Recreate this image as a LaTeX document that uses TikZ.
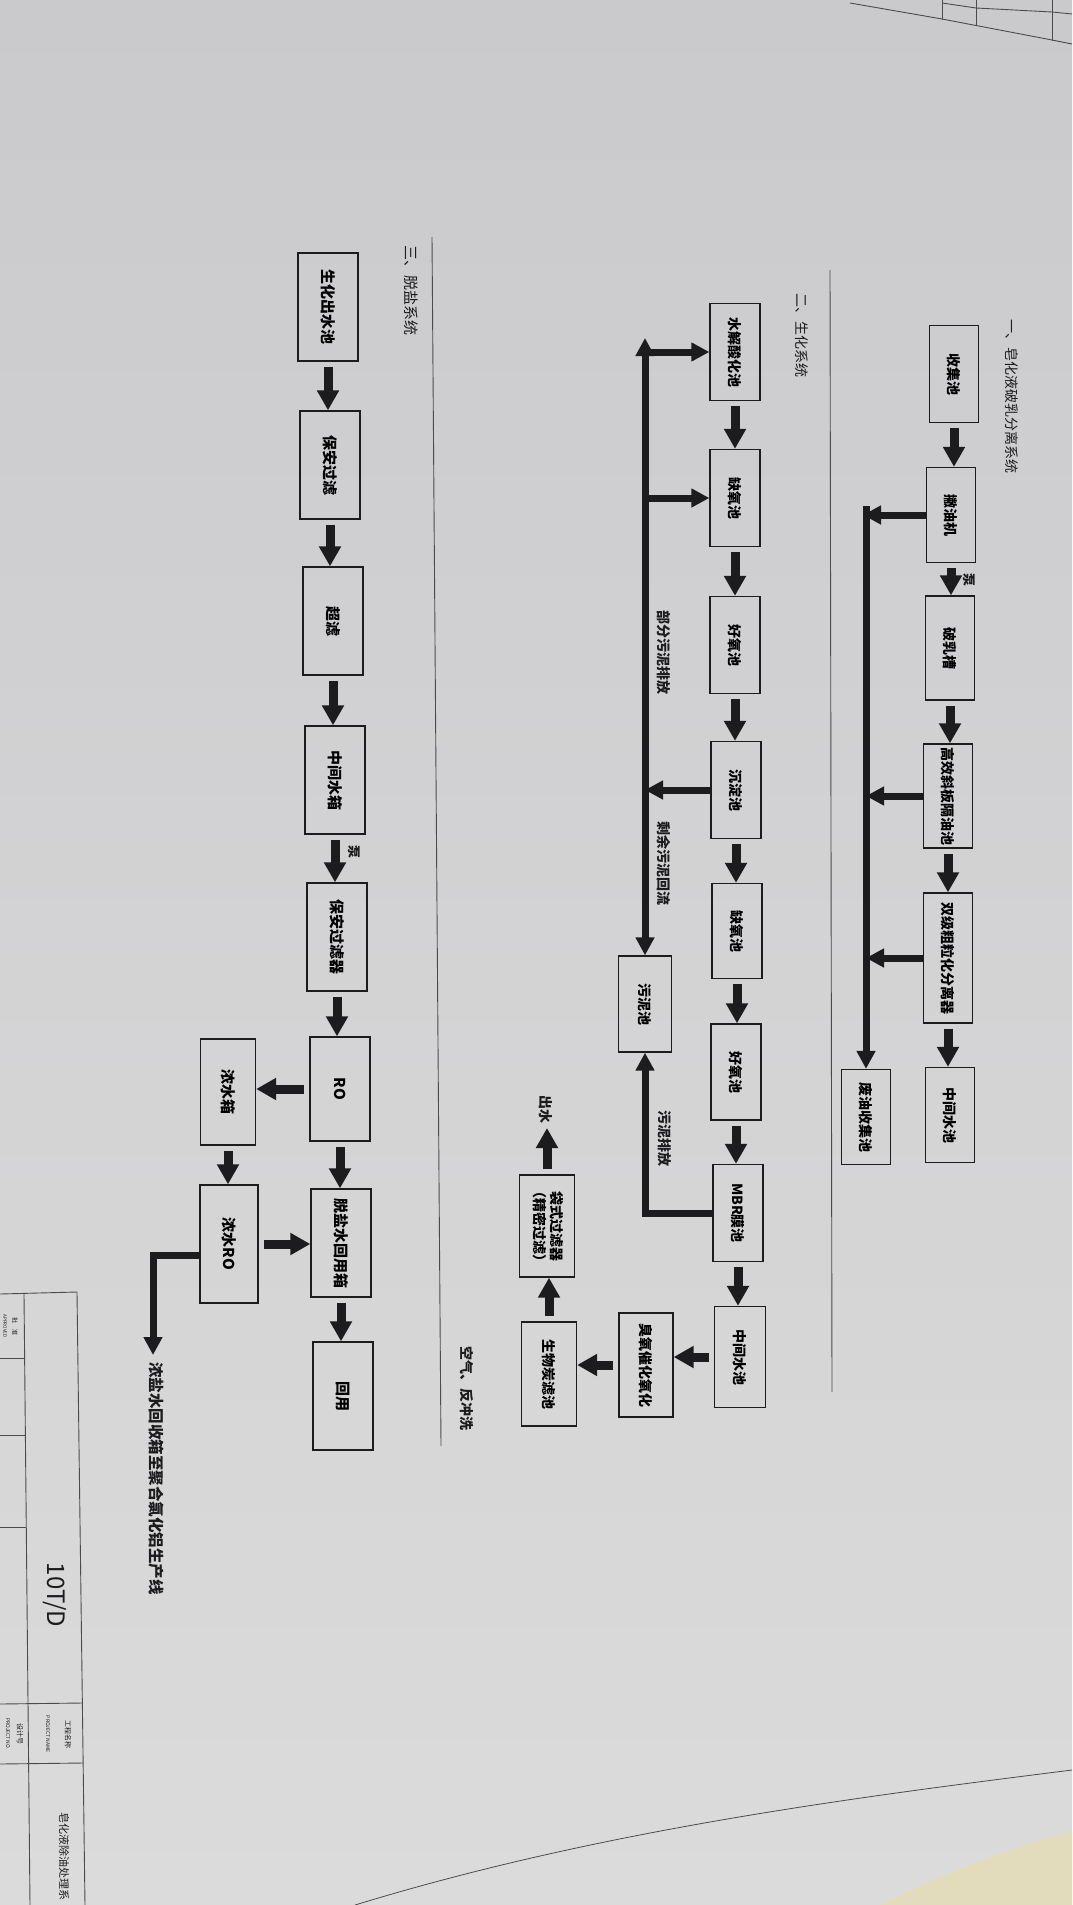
\documentclass[tikz,border=0pt]{standalone}
\usepackage{fontspec}
\setmainfont{Noto Sans CJK SC}
\usepackage{graphicx}
\usetikzlibrary{arrows.meta}
\definecolor{ink}{RGB}{28,28,30}
\definecolor{paperA}{RGB}{202,202,205}
\definecolor{paperB}{RGB}{220,219,219}
\definecolor{rulec}{RGB}{75,75,78}
\definecolor{pale}{RGB}{226,220,188}
\newcommand{\vtxt}[1]{\rotatebox{-90}{#1}}
\tikzset{
  box/.style={draw=ink, line width=1.3pt, inner sep=0pt, minimum width=49pt, minimum height=97pt, font=\fontsize{14}{16}\selectfont\bfseries},
  boxc/.style={box, minimum width=60pt, minimum height=108pt, font=\fontsize{15}{17}\selectfont\bfseries},
  flow/.style={draw=ink, line width=9pt, -{Triangle[length=20pt,width=21pt]}, shorten <=5pt},
  pipe/.style={draw=ink, line width=7pt, -{Triangle[length=18pt,width=18pt]}},
  lbl/.style={inner sep=0pt, text=ink, font=\fontsize{14}{16}\selectfont\bfseries},
  ttl/.style={inner sep=0pt, text=ink, font=\fontsize{14}{16}\selectfont},
  tiny/.style={inner sep=0pt, text=ink, font=\fontsize{6}{7}\selectfont},
  rulel/.style={draw=rulec, line width=0.9pt},
}
\begin{document}
\begin{tikzpicture}[x=1pt,y=-1pt]
\useasboundingbox (0,0) rectangle (1072,1905);
\shade[top color=paperA, bottom color=paperB] (0,0) rectangle (1072,1905);
% sheet edge and yellow area at bottom right
\fill[pale] (880,1905) .. controls (950,1872) and (1010,1848) .. (1072,1832) -- (1072,1905) -- cycle;
\draw[rulec, line width=0.8pt] (355,1905) .. controls (600,1830) and (850,1798) .. (1072,1770);

% ---------- section 1 ----------
\node[ttl] (t1) at (1012,396) {\vtxt{一、皂化液破乳分离系统}};
\node[box] (s1a) at (954,374) {\vtxt{收集池}};
\node[box, minimum height=95pt] (s1b) at (951,515) {\vtxt{撇油机}};
\node[box, minimum height=104pt] (s1c) at (950,648) {\vtxt{破乳槽}};
\node[box, minimum height=104pt] (s1d) at (948,796) {\vtxt{高效斜板隔油池}};
\node[box, minimum height=130pt] (s1e) at (948,958) {\vtxt{双级粗粒化分离器}};
\node[box, minimum height=95pt] (s1f) at (950,1115) {\vtxt{中间水池}};
\node[box, minimum height=95pt] (s1g) at (866,1117) {\vtxt{废油收集池}};
\node[lbl, font=\fontsize{13}{15}\selectfont\bfseries] (p1) at (969,580) {\vtxt{泵}};

\draw[flow] (s1a.south) -- (s1a.south |- s1b.north);
\draw[flow] (s1b.south) -- (s1b.south |- s1c.north);
\draw[flow] (s1c.south) -- (s1c.south |- s1d.north);
\draw[flow] (s1d.south) -- (s1d.south |- s1e.north);
\draw[flow] (s1e.south) -- (s1e.south |- s1f.north);

\coordinate (b1top) at (866,506);
\coordinate (b1j) at (863,515);
\draw[pipe] (b1top) -- (s1g.north);
\draw[pipe] (s1b.west) -- (b1j);
\draw[pipe] (s1d.west) -- (s1d.west -| s1g.north);
\draw[pipe] (s1e.west) -- (s1e.west -| s1g.north);

\draw[rulel] (830,270) -- (832,1392);

% ---------- section 2 ----------
\node[ttl] (t2) at (802,335) {\vtxt{二、生化系统}};
\node[box, minimum width=50pt] (s2a) at (735,352) {\vtxt{水解酸化池}};
\node[box, minimum width=50pt] (s2b) at (735,498) {\vtxt{缺氧池}};
\node[box, minimum width=50pt] (s2c) at (735,645) {\vtxt{好氧池}};
\node[box, minimum width=50pt] (s2d) at (736,790) {\vtxt{沉淀池}};
\node[box, minimum width=50pt, minimum height=95pt] (s2e) at (737,931) {\vtxt{缺氧池}};
\node[box, minimum width=50pt, minimum height=96pt] (s2f) at (736,1072) {\vtxt{好氧池}};
\node[box, minimum width=50pt] (s2g) at (738,1213) {\vtxt{MBR膜池}};
\node[box, minimum width=51pt, minimum height=101pt] (s2h) at (740,1357) {\vtxt{中间水池}};
\node[box, minimum width=53pt, minimum height=96pt] (s2s) at (645,1004) {\vtxt{污泥池}};
\node[box, minimum width=54pt, minimum height=104pt] (s2o) at (646,1365) {\vtxt{臭氧催化氧化}};
\node[box, minimum width=55pt, minimum height=104pt] (s2m) at (549,1374) {\vtxt{生物炭滤池}};
\node[box, minimum width=55pt, minimum height=102pt] (s2k) at (547,1226) {\vtxt{\begin{tabular}{@{}c@{}}袋式过滤器\\（精密过滤）\end{tabular}}};

\draw[flow] (s2a.south) -- (s2a.south |- s2b.north);
\draw[flow] (s2b.south) -- (s2b.south |- s2c.north);
\draw[flow] (s2c.south) -- (s2c.south |- s2d.north);
\draw[flow] (s2d.south) -- (s2d.south |- s2e.north);
\draw[flow] (s2e.south) -- (s2e.south |- s2f.north);
\draw[flow] (s2f.south) -- (s2f.south |- s2g.north);
\draw[flow] (s2g.south) -- (s2g.south |- s2h.north);
\draw[flow] (s2h.west) -- (s2h.west -| s2o.east);
\draw[flow] (s2o.west) -- (s2o.west -| s2m.east);
\draw[flow] (s2m.north) -- (s2m.north |- s2k.south);
\coordinate (out2) at (547,1128);
\draw[flow] (s2k.north) -- (out2);
\node[lbl] (l2out) at (546,1109) {\vtxt{出水}};
\node[lbl] (l2air) at (467,1388) {\vtxt{空气、反冲洗}};

\coordinate (b2top) at (645,338);
\coordinate (b2j1) at (641.5,352);
\coordinate (b2j2) at (641.5,498);
\draw[pipe, {Triangle[length=18pt,width=18pt]}-{Triangle[length=18pt,width=18pt]}] (b2top) -- (s2s.north);
\draw[pipe] (b2j1) -- (b2j1 -| s2a.west);
\draw[pipe] (b2j2) -- (b2j2 -| s2b.west);
\draw[pipe] (s2d.west) -- (s2d.west -| s2s.north);
\draw[pipe] (s2g.west) -| (s2s.south);
\node[lbl] (l2a) at (664,652) {\vtxt{部分污泥排放}};
\node[lbl] (l2b) at (664,863) {\vtxt{剩余污泥回流}};
\node[lbl] (l2c) at (665,1138) {\vtxt{污泥排放}};

\draw[rulel] (432,237) -- (441,1446);

% ---------- section 3 ----------
\node[ttl, font=\fontsize{15}{17}\selectfont] (t3) at (411,290) {\vtxt{三、脱盐系统}};
\node[boxc] (s3a) at (328,307) {\vtxt{生化出水池}};
\node[boxc] (s3b) at (330,465) {\vtxt{保安过滤}};
\node[boxc] (s3c) at (333,621) {\vtxt{超滤}};
\node[boxc] (s3d) at (335,780) {\vtxt{中间水箱}};
\node[boxc] (s3e) at (337,937) {\vtxt{保安过滤器}};
\node[boxc, minimum height=104pt] (s3f) at (340,1089) {\vtxt{RO}};
\node[boxc] (s3g) at (341,1243) {\vtxt{脱盐水回用箱}};
\node[boxc] (s3h) at (343,1396) {\vtxt{回用}};
\node[boxc, minimum width=55pt, minimum height=106pt] (s3i) at (228,1092) {\vtxt{浓水箱}};
\node[boxc, minimum width=58pt, minimum height=118pt] (s3j) at (229,1244) {\vtxt{浓水RO}};
\node[lbl, font=\fontsize{13}{15}\selectfont\bfseries] (p3) at (354,852) {\vtxt{泵}};

\draw[flow] (s3a.south) -- (s3a.south |- s3b.north);
\draw[flow] (s3b.south) -- (s3b.south |- s3c.north);
\draw[flow] (s3c.south) -- (s3c.south |- s3d.north);
\draw[flow] (s3d.south) -- (s3d.south |- s3e.north);
\draw[flow] (s3e.south) -- (s3e.south |- s3f.north);
\draw[flow] (s3f.south) -- (s3f.south |- s3g.north);
\draw[flow] (s3g.south) -- (s3g.south |- s3h.north);
\draw[flow] (s3f.west) -- (s3f.west -| s3i.east);
\draw[flow] (s3i.south) -- (s3i.south |- s3j.north);
\draw[flow] (s3j.east) -- (s3j.east -| s3g.west);
\coordinate (out3) at (153,1355);
\draw[pipe] ([yshift=-11pt]s3j.west) -| (out3);
\node[lbl, font=\fontsize{15.5}{17}\selectfont\bfseries, anchor=north] (l3out) at (156,1362) {\vtxt{浓盐水回收箱至聚合氯化铝生产线}};

% ---------- title block (bottom left) ----------
\draw[rulel] (0,1294) -- (77,1292) -- (85,1905);
\draw[rulel] (24,1294) -- (30,1905);
\draw[rulel] (0,1358) -- (25,1358);
\draw[rulel] (0,1435) -- (25.5,1435);
\draw[rulel] (0,1527) -- (26,1527);
\draw[rulel] (0,1704) -- (82,1703);
\draw[rulel] (0,1764) -- (83,1763);
\node[tiny] (tb1) at (15,1326) {\vtxt{批\quad 准}};
\node[tiny, font=\fontsize{4.5}{5}\selectfont] (tb2) at (5,1326) {\vtxt{APPROVED}};
\node[inner sep=0pt, text=ink, font=\fontsize{24}{26}\selectfont] (tb3) at (55,1595) {\vtxt{10T/D}};
\node[tiny, font=\fontsize{7}{8}\selectfont] (tb4) at (68,1734) {\vtxt{工程名称}};
\node[tiny, font=\fontsize{5}{6}\selectfont] (tb5) at (48,1734) {\vtxt{PROJECT NAME}};
\node[tiny, font=\fontsize{7}{8}\selectfont] (tb6) at (20,1734) {\vtxt{设计号}};
\node[tiny, font=\fontsize{5}{6}\selectfont] (tb7) at (8,1734) {\vtxt{PROJECT NO.}};
\node[tiny, font=\fontsize{11}{12}\selectfont, anchor=north] (tb8) at (64,1812) {\vtxt{皂化液除油处理系}};

% ---------- table corner (top right) ----------
\draw[rulel] (850,3) -- (942,19) -- (1052,40) -- (1072,44);
\draw[rulel] (942,3) -- (976,8) -- (1052,12) -- (1072,14);
\draw[rulel] (942,0) -- (942,20);
\draw[rulel] (976,0) -- (976,26);
\draw[rulel] (1052,0) -- (1052,41);
\end{tikzpicture}
\end{document}
